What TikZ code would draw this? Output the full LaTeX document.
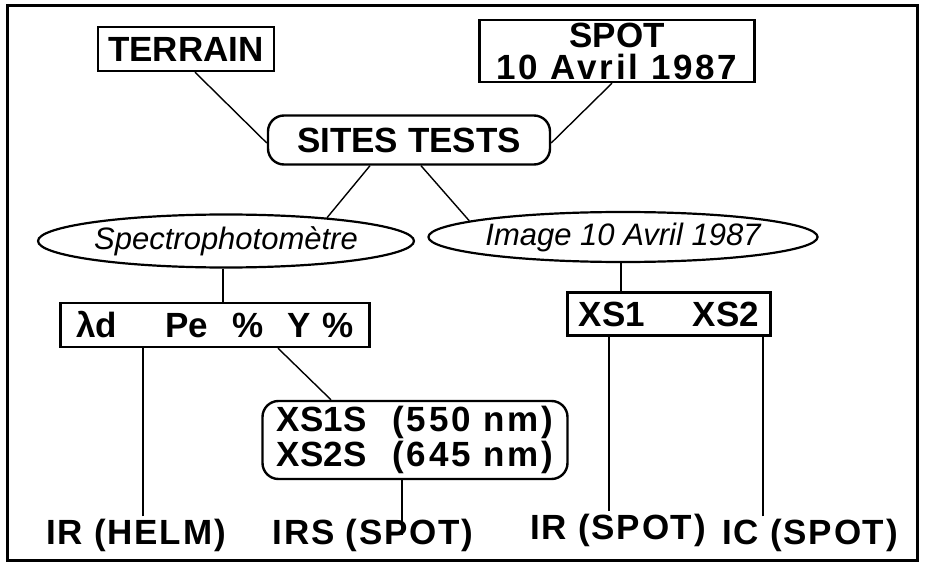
\documentclass[tikz,border=0pt]{standalone}
\usepackage{fontspec}
\setmainfont{Liberation Sans}
\usepackage{tikz}
\usetikzlibrary{shapes.geometric}
\tikzset{
  boite/.style={draw, line width=1.2pt, inner sep=1pt, align=center, font=\fontsize{17.5}{16}\selectfont\bfseries},
  arrondi/.style={boite, rounded corners=8pt},
  ovale/.style={draw, ellipse, line width=1.1pt, inner sep=0pt, font=\fontsize{15.5}{15}\selectfont\itshape},
  legende/.style={inner sep=1pt, font=\fontsize{17.5}{16}\selectfont\bfseries\addfontfeatures{LetterSpace=5}},
  lien/.style={line width=0.7pt}
}
\newcommand{\espace}[1]{{\addfontfeatures{LetterSpace=8}#1}}

\begin{document}
\begin{tikzpicture}[x=0.5pt, y=-0.5pt]
    \useasboundingbox (0,0) rectangle (927,567);
    \draw [line width=1.5pt] (7,6) rectangle (917,560);

    \node [boite, minimum width=88pt, minimum height=22pt] (terrain) at (186,49) {TERRAIN};
    \node [boite, minimum width=137.5pt, minimum height=31pt] (spot) at (617,51) {SPOT\\\espace{10 Avril 1987}};
    \node [arrondi, minimum width=141pt, minimum height=24.5pt] (sites) at (409,140) {SITES TESTS};

    \node [ovale, minimum width=188pt, minimum height=26.5pt] (spectro) at (226,241) {Spectrophotomètre};
    \node [ovale, minimum width=188.5pt, minimum height=25pt] (image) at (623,237) {Image 10 Avril 1987};

    \node [boite, minimum width=154.5pt, minimum height=22pt] (mesures) at (215,325)
        {λd\hspace{24pt}Pe\hspace{12pt}\%\hspace{12pt}Y\hspace{6pt}\%};
    \node [boite, minimum width=101.5pt, minimum height=21.5pt] (bandes) at (669,314)
        {XS1\hspace{24pt}XS2};
    \node [arrondi, minimum width=152.5pt, minimum height=39pt] (xss) at (415,440)
        {XS1S\hspace{13pt}\espace{(550 nm)}\\XS2S\hspace{13pt}\espace{(645 nm)}};

    \node [legende] (irhelm) at (136,535) {IR (HELM)};
    \node [legende] (irs) at (373,535) {IRS (SPOT)};
    \node [legende] (irspot) at (618,530) {IR (SPOT)};
    \node [legende] (icspot) at (810,535) {IC (SPOT)};

    \draw [lien] ([xshift=4.5pt]terrain.south) -- ([yshift=-1.5pt]sites.west);
    \draw [lien] ([xshift=-2.5pt]spot.south) -- ([yshift=-1.5pt]sites.east);
    \draw [lien] ([xshift=-19.5pt]sites.south) -- (spectro.13);
    \draw [lien] ([xshift=6pt]sites.south) -- (image.174);
    \draw [lien] ([xshift=-1.5pt]spectro.south) -- ([xshift=-1.5pt]spectro.south |- mesures.north);
    \draw [lien] ([xshift=-1pt]image.south) -- ([xshift=-1pt]image.south |- bandes.north);
    \draw [lien] ([xshift=31.5pt]mesures.south) -- ([xshift=-42pt]xss.north);
    \draw [lien] ([xshift=3.5pt]irhelm.north) -- ([xshift=3.5pt]irhelm.north |- mesures.south);
    \draw [lien] ([xshift=-6.5pt]xss.south) -- ([xshift=-6.5pt]xss.south |- irs.center);
    \draw [lien] ([xshift=-4.5pt]irspot.north) -- ([xshift=-4.5pt]irspot.north |- bandes.south);
    \draw [lien] ([xshift=-23.5pt]icspot.north) -- ([xshift=-23.5pt]icspot.north |- bandes.south);
\end{tikzpicture}
\end{document}
